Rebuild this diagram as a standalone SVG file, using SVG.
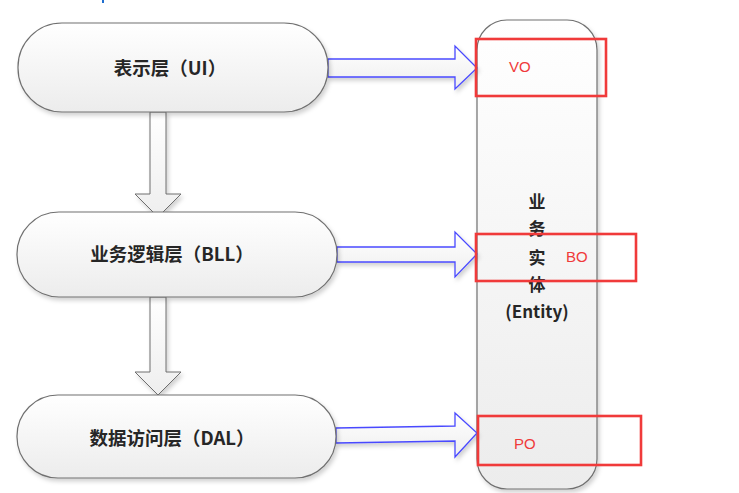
<svg xmlns="http://www.w3.org/2000/svg" width="739" height="493" viewBox="0 0 739 493">
<defs>
<linearGradient id="g" x1="0" y1="0" x2="0" y2="1">
<stop offset="0" stop-color="#ffffff"/>
<stop offset="1" stop-color="#ececec"/>
</linearGradient>
<linearGradient id="ga" x1="0" y1="0" x2="0" y2="1">
<stop offset="0" stop-color="#ffffff"/>
<stop offset="1" stop-color="#eeeeee"/>
</linearGradient>
<filter id="sh" x="-10%" y="-10%" width="130%" height="130%">
<feDropShadow dx="2" dy="3" stdDeviation="2" flood-color="#000" flood-opacity="0.18"/>
</filter>
</defs>
<style>
.node{fill:url(#g);stroke:#707070;stroke-width:1.2;filter:url(#sh)}
.lbl{font-family:"Noto Sans CJK SC","Liberation Sans",sans-serif;font-weight:bold;font-size:18.5px;fill:#262626;text-anchor:middle;dominant-baseline:central}
.down{fill:url(#ga);stroke:#6e6e6e;stroke-width:1;filter:url(#sh)}
.right{fill:url(#ga);stroke:#4a4aff;stroke-width:1.3;filter:url(#sh)}
.red{fill:none;stroke:#f03a3a;stroke-width:2.6}
.rt{font-family:"Liberation Sans",Arial,sans-serif;font-size:15px;fill:#f03a3a;dominant-baseline:central}
.ent{font-family:"Noto Sans CJK SC",sans-serif;font-weight:bold;font-size:17px;fill:#262626;text-anchor:middle;dominant-baseline:central}
</style>
<rect x="102" y="0" width="2" height="3" fill="#1f6fd0"/>
<g id="entity">
<rect x="477" y="20" width="120" height="469" rx="30" class="node"/>
<text class="ent" x="537" y="200">业</text>
<text class="ent" x="537" y="227">务</text>
<text class="ent" x="537" y="256">实</text>
<text class="ent" x="537" y="283">体</text>
<text class="ent" x="537" y="310" font-family="'Open Sans','Liberation Sans',sans-serif">(Entity)</text>
</g>
<g id="connectors">
<path class="down" d="M150,112 L166,112 L166,194 L181,194 L158,217 L135,194 L150,194 Z"/>
<path class="down" d="M150,297 L166,297 L166,372 L181,372 L158,395 L135,372 L150,372 Z"/>
<path class="right" d="M328,59 L455,59 L455,46 L477,68 L455,89 L455,77 L328,77 Z"/>
<path class="right" d="M337,247 L455,247 L455,232 L477,254 L455,277 L455,262 L337,262 Z"/>
<path class="right" d="M336,428 L455,426 L455,413 L477,433 L455,457 L455,441 L336,443 Z"/>
</g>
<g id="ui">
<rect x="18" y="23" width="310" height="89" rx="44" class="node"/>
<text class="lbl" x="170" y="67">表示层（UI）</text>
</g>
<g id="bll">
<rect x="17" y="212" width="320" height="85" rx="42" class="node"/>
<text class="lbl" x="172" y="253">业务逻辑层（BLL）</text>
</g>
<g id="dal">
<rect x="17" y="395" width="319" height="83" rx="41" class="node"/>
<text class="lbl" x="172" y="437">数据访问层（DAL）</text>
</g>
<g id="vo">
<rect class="red" x="476" y="39" width="130" height="57"/>
<text class="rt" x="509" y="66">VO</text>
</g>
<g id="bo">
<rect class="red" x="476" y="234" width="160" height="47"/>
<text class="rt" x="566" y="256">BO</text>
</g>
<g id="po">
<rect class="red" x="478" y="416" width="163" height="49"/>
<text class="rt" x="514" y="443">PO</text>
</g>
</svg>
